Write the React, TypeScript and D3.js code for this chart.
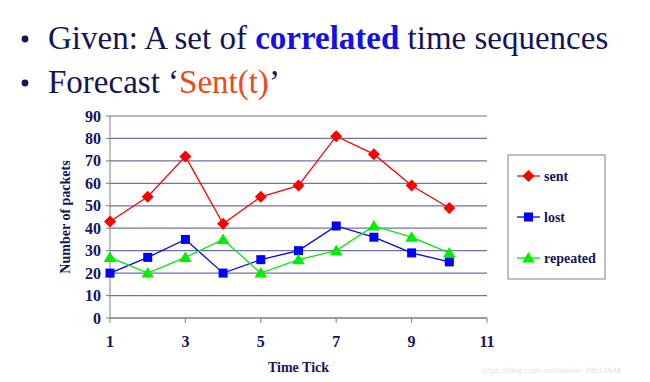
import React from "react";
import * as d3 from "d3";

const ticks = [1, 2, 3, 4, 5, 6, 7, 8, 9, 10];
const sent = [43, 54, 72, 42, 54, 59, 81, 73, 59, 49];
const lost = [20, 27, 35, 20, 26, 30, 41, 36, 29, 25];
const repeated = [27, 20, 27, 35, 20, 26, 30, 41, 36, 29];
const yTicks = [0, 10, 20, 30, 40, 50, 60, 70, 80, 90];
const xTicks = [1, 3, 5, 7, 9, 11];
const seriesNames = ["sent", "lost", "repeated"];
const seriesColors = ["#ff0000", "#0000ff", "#00ee00"];

const NAVY = "#14145a";
const FONT = "Liberation Serif, Times New Roman, DejaVu Serif, serif";
const serif = { fontFamily: FONT };

function Marker({ kind, x, y, color }: { kind: string; x: number; y: number; color: string }) {
  if (kind === "sent") {
    const r = 6;
    return <path d={`M${x},${y - r}L${x + r},${y}L${x},${y + r}L${x - r},${y}Z`} fill={color} />;
  }
  if (kind === "lost") {
    const s = 4.5;
    return <rect x={x - s} y={y - s} width={2 * s} height={2 * s} fill={color} />;
  }
  const h = 6;
  return <path d={`M${x},${y - h}L${x + h * 1.05},${y + h * 0.75}L${x - h * 1.05},${y + h * 0.75}Z`} fill={color} />;
}

export default function App() {
  const x = d3.scaleLinear().domain([1, 11]).range([110, 487]);
  const y = d3.scaleLinear().domain([0, 90]).range([318, 116]);
  const data = [sent, lost, repeated];
  const line = d3
    .line<number>()
    .x((_, i) => x(ticks[i]))
    .y((d) => y(d));

  return (
    <svg width={650} height={382} style={{ position: "absolute", left: 0, top: 0, background: "#fff" }}>
      <rect width={650} height={382} fill="#fff" />
      {/* Titles */}
      <g style={{ ...serif, fontSize: 33 }} fill={NAVY}>
        <circle cx={25} cy={39} r={3.4} fill={NAVY} />
        <text x={48} y={49}>
          Given: A set of{" "}
          <tspan fill="#1212e6" fontWeight="bold">correlated</tspan> time sequences
        </text>
        <circle cx={25} cy={83} r={3.4} fill={NAVY} />
        <text x={48} y={93}>
          Forecast ‘<tspan fill="#f04818">Sent(t)</tspan>’
        </text>
      </g>

      {/* Gridlines */}
      {yTicks.map((t) => (
        <line key={t} x1={x(1)} x2={x(11)} y1={y(t)} y2={y(t)} stroke="#7070a8" strokeWidth={1.2} />
      ))}
      {/* Axes */}
      <line x1={x(1)} x2={x(1)} y1={y(0)} y2={y(90)} stroke="#808080" strokeWidth={1} />
      <line x1={x(1)} x2={x(11)} y1={y(0)} y2={y(0)} stroke="#808080" strokeWidth={1} />
      {yTicks.map((t) => (
        <line key={"yt" + t} x1={x(1) - 4} x2={x(1)} y1={y(t)} y2={y(t)} stroke="#808080" />
      ))}
      {xTicks.map((t) => (
        <line key={"xt" + t} x1={x(t)} x2={x(t)} y1={y(0)} y2={y(0) + 5} stroke="#808080" />
      ))}

      {/* Tick labels */}
      <g style={{ ...serif, fontSize: 16, fontWeight: "bold" }} fill={NAVY}>
        {yTicks.map((t) => (
          <text key={"yl" + t} x={x(1) - 9} y={y(t) + 5.5} textAnchor="end">
            {t}
          </text>
        ))}
        {xTicks.map((t) => (
          <text key={"xl" + t} x={x(t)} y={y(0) + 29} textAnchor="middle">
            {t}
          </text>
        ))}
      </g>
      <text
        style={{ ...serif, fontSize: 14, fontWeight: "bold" }}
        fill={NAVY}
        transform={`translate(70, ${y(45)}) rotate(-90)`}
        textAnchor="middle"
      >
        Number of packets
      </text>
      <text style={{ ...serif, fontSize: 14, fontWeight: "bold" }} fill={NAVY} x={x(6)} y={372} textAnchor="middle">
        Time Tick
      </text>

      {/* Series */}
      {data.map((vals, si) => (
        <g key={seriesNames[si]}>
          <path d={line(vals) || ""} fill="none" stroke={seriesColors[si]} strokeWidth={1.3} />
          {vals.map((v, i) => (
            <Marker key={i} kind={seriesNames[si]} x={x(ticks[i])} y={y(v)} color={seriesColors[si]} />
          ))}
        </g>
      ))}

      {/* Legend */}
      <rect x={508} y={155} width={97} height={124} fill="#fff" stroke="#808080" strokeWidth={1} />
      {seriesNames.map((name, i) => {
        const ly = 176 + i * 41;
        return (
          <g key={"lg" + name}>
            <line x1={517} x2={540} y1={ly} y2={ly} stroke={seriesColors[i]} strokeWidth={1.3} />
            <Marker kind={name} x={528.5} y={ly} color={seriesColors[i]} />
            <text x={544} y={ly + 4.5} style={{ ...serif, fontSize: 14, fontWeight: "bold" }} fill={NAVY}>
              {name}
            </text>
          </g>
        );
      })}

      {/* Watermark */}
      <text x={481} y={373} style={{ fontFamily: "DejaVu Sans, sans-serif", fontSize: 7.2 }} fill="#e2e2e2">
        https://blog.csdn.net/weixin_39653948
      </text>
    </svg>
  );
}
